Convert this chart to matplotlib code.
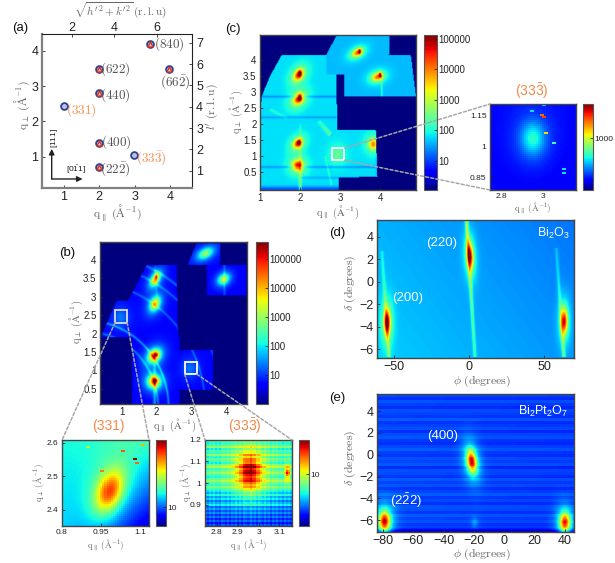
import numpy as np
import matplotlib
matplotlib.use('Agg')
import matplotlib.pyplot as plt
from matplotlib.colors import LogNorm
from matplotlib.patches import ConnectionPatch, Rectangle
from matplotlib.path import Path
from matplotlib.ticker import FixedLocator, FixedFormatter, NullLocator

plt.rcParams.update({'font.family': ['Liberation Sans', 'DejaVu Sans'], 'font.size': 8,
                     'mathtext.fontset': 'cm', 'mathtext.rm': 'Liberation Sans',
                     'mathtext.it': 'Liberation Sans:italic', 'mathtext.bf': 'Liberation Sans:bold',
                     'mathtext.default': 'rm'})

W, H = 615, 563
ORANGE = '#f58a4b'; GREY = '#666666'; TICK = '#222222'

# ---------- panel (a): reflections ----------
a_triangle_q = [2, 2, 2, 2, 3.42, 3.98]
a_triangle_p = [0.70, 1.40, 2.80, 3.50, 4.20, 3.50]
a_ring_only_q = [1.0, 2.97]
a_ring_only_p = [2.45, 1.05]
a_labels = [r'(22\bar{2})', '(400)', '(440)', '(622)', '(840)', r'(66\bar{2})']
a_label_q = [2.46, 2.48, 2.46, 2.46, 3.99, 4.15]
a_label_p = [0.65, 1.42, 2.75, 3.48, 4.20, 3.12]
a_or_labels = ['(331)', r'(33\bar{3})']
a_or_q = [1.48, 3.47]
a_or_p = [2.33, 0.96]

# ---------- maps: intensities are expressed as position on the colour scale (0..1) ----------
# peak rows: q_x, q_y, height, width_x(px), width_y(px), tilt(deg)
c_peaks = [(1.96, 3.51, .54, 2.8, 4.2, 35), (1.96, 2.77, .56, 3, 4.2, 40), (1.94, 1.39, .54, 2.6, 3.5, 40),
           (1.94, 0.71, .58, 3.4, 3.4, 20), (3.42, 4.20, .50, 2.3, 3.8, 60), (3.92, 3.45, .50, 2.6, 3.8, 70),
           (3.82, 1.37, .44, 3, 3.6, 0), (2.92, 1.04, .14, 4, 5, 0),
           (3.48, 4.24, .55, .7, 1.3, 0), (3.99, 3.52, .55, .7, 1.3, 0), (1.99, 3.56, .5, .8, 1.5, 0),
           (1.99, 2.81, .5, .8, 1.5, 0), (1.97, 1.42, .5, .8, 1.2, 0)]
# streak rows: x0, y0, x1, y1, amp0, amp1, width(px)
c_streaks = [(2.0, -.05, 2.0, 2.0, .20, .02, .9), (4.02, 3.5, 4.03, 2.85, .10, .07, .7),
             (2.46, 2.08, 2.75, 1.66, .05, .14, 1.3), (1.25, 2.44, 1.67, 2.18, .05, .03, 1.0),
             (2.62, 1.0, 2.78, 0.1, .05, .05, .6),
             (1.0, 2.84, 2.9, 2.84, -.08, -.08, .8), (1.0, 2.2, 2.9, 2.2, -.06, -.06, .8),
             (1.0, 0.66, 3.9, 0.66, -.07, -.07, .8), (2.0, .33, 3.9, .33, -.05, -.05, .8),
             (1.0, -.03, 2.96, -.03, -.14, -.14, 2.0), (3.9, 1.82, 3.9, .4, -.03, -.03, .8)]
c_tiles = [([(1, -.05), (1, 2.23), (1.04, 2.84), (1.25, 3.48), (1.54, 4.13), (2.65, 4.13), (2.9, 3.53),
             (2.92, 1.82), (3.88, 1.82), (3.92, .365), (2.96, .33), (2.96, -.05)], .345),
           ([(2.65, 4.13), (2.92, 4.78), (4.23, 4.78), (4.21, 4.13), (4.75, 4.13), (4.88, 2.84),
             (3.10, 2.84), (3.10, 3.53), (2.65, 3.53)], .31)]

b_peaks = [(3.41, 4.18, .42, 3.2, 5.5, 60), (3.93, 3.48, .46, 3.2, 4.2, 50), (1.97, 3.48, .58, 2.6, 4.8, 30),
           (1.96, 2.81, .58, 3, 4.8, 25), (1.94, 1.40, .68, 3.6, 4.8, 40), (1.93, 0.70, .68, 4.2, 4.2, 30),
           (0.98, 2.44, .12, 5, 6, 0), (2.96, 1.06, .12, 5, 6, 0),
           (2.00, 3.55, .25, .8, 1.6, 0), (2.00, 1.43, .25, 1.2, 1.2, 0), (1.98, 0.73, .25, 1.2, 1.2, 0)]
b_streaks = [(1.95, .09, 1.95, 1.56, .16, .06, 1.0), (2.02, 2.95, 1.96, 3.84, .05, .05, .8),
             (3.95, 3.05, 3.95, 3.86, .08, .08, .8)]
b_rings = [(2.05, .11, .8), (2.35, .14, .8), (3.4, .09, .8), (3.9, .09, .8), (4.2, .10, .9)]
b_tiles = [([(2.89, 3.86), (3.15, 4.45), (3.84, 4.45), (3.82, 3.86)], .12),
           ([(3.45, 3.86), (4.58, 3.86), (4.58, 3.05), (3.45, 3.05)], .11),
           ([(.40, 1.90), (.86, 2.90), (1.19, 2.90), (1.72, 3.86), (2.58, 3.86), (2.62, 1.90)], .125),
           ([(1.30, 1.90), (2.67, 1.90), (2.67, 1.56), (3.63, 1.56), (3.63, .47), (2.67, .47),
             (2.67, .09), (1.30, .09)], .12)]

d_peaks = [(-54.5, -3.6, .66, 2.2, 8.5, 0), (0.7, 2.3, .66, 2.2, 8.5, -3), (63.5, -3.5, .66, 2.2, 8.5, 0)]
d_streaks = [(-1.6, 5.5, 4.0, -6.7, .26, .12, 1.2), (-58, 2.7, -53.3, -6.7, .06, .18, 1.2),
             (58.2, 3.0, 63.3, -6.7, .06, .18, 1.2)]
d_corners = [.30, .24, .33, .27]  # TL, TR, BL, BR

e_peaks = [(-79, -6.1, .76, 3.6, 6.5, 0), (40, -6.2, .72, 3.5, 6.5, 0), (-21.5, -0.6, .76, 3.1, 7.5, -8),
           (-19.5, -6.2, .10, 2, 3, 0)]
e_streaks = [(-84, -7.0, 46, -7.0, -.14, -.14, 1.6)]
e_corners = [.19, .18, .20, .18]
e_rows = [.01, -.015, .02, 0, -.02, .015, .005, -.01, .025, -.015, 0, .015, -.02, .01, .02, -.01, -.02, .005,
          .025, -.005, -.015, .015, 0, .02, -.025, .01, .005, -.015, .02, -.005, .015, -.02, 0, .025, -.01, .005,
          -.02, .015, .01, -.015, .02, -.005, .01, -.015, 0, .005]

b1_peaks = [(.983, 2.454, .57, 8.5, 14.5, 20)]
b1_corners = [.38, .42, .33, .08]
b1_hot_x = [1.077, 1.104, 1.031, 1.081, .95, .90]
b1_hot_y = [2.549, 2.593, 2.573, 2.537, 2.516, 2.588]
b1_hot_f = [.98, .72, .82, .80, .78, .55]

b2_peaks = [(2.958, 1.054, .52, 7.5, 12, 0), (3.138, 1.046, .42, 1.5, 4, 0)]
b2_rows = [.45, .38, .42, .52, .36, .44, .40, .52, .38, .46, .42, .36, .48, .55, .40, .45, .50, .42,
           .38, .46, .52, .44, .40, .48, .42, .36, .30, .38, .28, .34, .24, .30, .36, .22, .28, .20,
           .26, .18, .24, .16, .22, .14, .20]
b2_cols = [.015, -.025, .02, -.01, .03, -.02, .005, -.03, .025, .01, -.015, .02, -.025, .015, -.005, .025,
           -.02, .01, -.03, .02, .005, -.015, .03, -.01, .015, -.025, .02, .005, -.02, .025, -.01, .015,
           -.03, .02, -.005, .025, -.015, .01, -.025, .02, -.01, .015, -.02]

c2_peaks = [(2.95, 1.04, .28, 8, 11, 0)]
c2_corners = [.13, .13, .12, .11]
c2_hot_x = [2.986, 2.997, 3.013, 3.048, 3.097, 3.097, 2.937, 2.995]
c2_hot_y = [1.158, 1.146, 1.065, 1.018, .891, .867, 1.176, 1.203]
c2_hot_f = [.80, .85, .68, .42, .35, .35, .35, .35]

# ---------- helpers ----------
def axpx(l, t, r, b):
    return fig.add_axes([l / W, 1 - b / H, (r - l) / W, (b - t) / H])

def fx(px, py, s, **kw):
    kw.setdefault('ha', 'center'); kw.setdefault('va', 'center')
    return fig.text(px / W, 1 - py / H, s, **kw)

def grid(ext, nx, ny):
    x = ext[0] + (np.arange(nx) + .5) / nx * (ext[1] - ext[0])
    y = ext[3] - (np.arange(ny) + .5) / ny * (ext[3] - ext[2])
    return np.meshgrid(x, y)

def add_peaks(f, X, Y, ext, box, peaks):
    sx, sy = box[0] / (ext[1] - ext[0]), box[1] / (ext[3] - ext[2])
    for x0, y0, h, wx, wy, tilt in peaks:
        dx, dy = (X - x0) * sx, (Y - y0) * sy
        t = np.radians(tilt)
        u = dx * np.cos(t) - dy * np.sin(t)
        v = dx * np.sin(t) + dy * np.cos(t)
        q2 = (u / wx) ** 2 + (v / wy) ** 2
        f = f + h * (.7 * np.exp(-q2 / 2) + .3 * np.exp(-q2 / 8))
    return f

def add_streaks(f, X, Y, ext, box, streaks):
    sx, sy = box[0] / (ext[1] - ext[0]), box[1] / (ext[3] - ext[2])
    for x0, y0, x1, y1, a0, a1, w in streaks:
        ax_, ay_ = (x1 - x0) * sx, (y1 - y0) * sy
        px_, py_ = (X - x0) * sx, (Y - y0) * sy
        t = (px_ * ax_ + py_ * ay_) / (ax_ ** 2 + ay_ ** 2)
        d = np.hypot(px_ - t * ax_, py_ - t * ay_)
        amp = a0 + (a1 - a0) * np.clip(t, 0, 1)
        f = f + amp * np.exp(-(d / w) ** 2 / 2) * ((t >= 0) & (t <= 1))
    return f

def tiles_field(X, Y, tiles):
    f = np.zeros_like(X); mask = np.zeros_like(X, bool)
    pts = np.c_[X.ravel(), Y.ravel()]
    for poly, lev in tiles:
        m = Path(poly + [poly[0]]).contains_points(pts).reshape(X.shape)
        f[m] = lev; mask |= m
    return f, mask

def corners_field(X, Y, ext, c):
    u = (X - ext[0]) / (ext[1] - ext[0]); v = (Y - ext[2]) / (ext[3] - ext[2])
    return c[0] * (1 - u) * v + c[1] * u * v + c[2] * (1 - u) * (1 - v) + c[3] * u * (1 - v)

def put_hot(f, ext, xs, ys, vals):
    ny, nx = f.shape
    for x, y, val in zip(xs, ys, vals):
        i = int((ext[3] - y) / (ext[3] - ext[2]) * ny); j = int((x - ext[0]) / (ext[1] - ext[0]) * nx)
        if 0 <= i < ny and 0 <= j < nx:
            f[i, j:j + 2] = val
    return f

def show(ax, f, ext, vmin, vmax):
    I = vmin * (vmax / vmin) ** np.clip(f, 0, 1)
    im = ax.imshow(I, extent=ext, origin='upper', cmap='jet', norm=LogNorm(vmin, vmax),
                   aspect='auto', interpolation='bilinear')
    ax.set_xlim(ext[0], ext[1]); ax.set_ylim(ext[2], ext[3])
    return im

def style(ax, xt, yt, fs=7):
    ax.set_xticks(xt); ax.set_yticks(yt)
    ax.set_xticklabels([('%g' % v).replace('-', '\u2212') for v in xt])
    ax.set_yticklabels([('%g' % v).replace('-', '\u2212') for v in yt])
    ax.tick_params(direction='in', length=2, width=.6, labelsize=fs, pad=2.5, colors=TICK)
    for s in ax.spines.values():
        s.set_linewidth(1.0); s.set_color('#444444')

def cbar(im, box, ticks, labels, fs=7):
    cax = axpx(*box)
    cb = fig.colorbar(im, cax=cax)
    cax.yaxis.set_major_locator(FixedLocator(ticks))
    cax.yaxis.set_major_formatter(FixedFormatter(labels))
    cax.yaxis.set_minor_locator(NullLocator())
    cax.tick_params(direction='in', length=2, width=.6, labelsize=fs, pad=1, colors=TICK)
    cb.outline.set_linewidth(.8); cb.outline.set_edgecolor('#555555')
    return cb

def link(axA, xyA, axB, xyB):
    axB.add_artist(ConnectionPatch(xyA=xyA, coordsA='data', axesA=axA, xyB=xyB, coordsB='axes fraction',
                                   axesB=axB, color='#a8a8a8', lw=1.1, ls=(0, (2, 1.4)), zorder=10,
                                   clip_on=False))

fig = plt.figure(figsize=(W / 100, H / 100), dpi=100)
QPAR = r'$\mathrm{q}_{\parallel}\ (\mathrm{\AA}^{-1})$'
QPER = r'$\mathrm{q}_{\perp}\ (\mathrm{\AA}^{-1})$'
SANS = dict(math_fontfamily='custom')

# ---------- (a) ----------
ax = axpx(42, 34, 192, 188)
ax.set_xlim(.38, 4.62); ax.set_ylim(.11, 4.48)
ax.scatter(a_ring_only_q, a_ring_only_p, s=24, facecolor='#b9c4d6', edgecolor='#2d3f96', lw=1.3, zorder=3)
ax.scatter(a_triangle_q, a_triangle_p, s=24, facecolor='#b9c4d6', edgecolor='#2d3f96', lw=1.3, zorder=3)
ax.scatter(a_triangle_q, a_triangle_p, s=13, marker='^', facecolor='#f4d9c8', edgecolor='#d8321f', lw=1.0, zorder=4)
for x, y, s in zip(a_label_q, a_label_p, a_labels):
    ax.text(x, y, '$%s$' % s, ha='center', va='center', fontsize=9.5, color='#555555', clip_on=False)
for x, y, s in zip(a_or_q, a_or_p, a_or_labels):
    ax.text(x, y, '$%s$' % s, ha='center', va='center', fontsize=9.5, color=ORANGE)
style(ax, [1, 2, 3, 4], [1, 2, 3, 4], fs=9)
ax.spines['left'].set_color('#808080'); ax.spines['bottom'].set_color('#808080')
ax.spines['left'].set_linewidth(1.6); ax.spines['bottom'].set_linewidth(1.6)
ax.spines['top'].set_color('#222222'); ax.spines['right'].set_color('#222222')
ax.spines['top'].set_linewidth(.8); ax.spines['right'].set_linewidth(.8)
ap = dict(arrowstyle='-|>', color='#222222', lw=1.0, shrinkA=0, shrinkB=0, mutation_scale=8)
ax.annotate('', xy=(1.527, .366), xytext=(.654, .366), arrowprops=ap)
ax.annotate('', xy=(.654, 1.22), xytext=(.654, .366), arrowprops=ap)
ax.text(1.35, .62, r'$[0\bar{1}1]$', fontsize=6, ha='center', va='center', color='#222222', **SANS)
ax.text(.72, 1.52, r'$[111]$', fontsize=6, rotation=90, ha='center', va='center', color='#222222', **SANS)
top = ax.twiny(); top.set_xlim(.6, 7.66); top.set_frame_on(False)
top.set_xticks([2, 4, 6]); top.tick_params(direction='in', length=2, width=.6, labelsize=9, pad=0, colors=TICK)
right = ax.twinx(); right.set_ylim(.19, 7.41); right.set_frame_on(False)
right.set_yticks(range(1, 8)); right.tick_params(direction='in', length=2, width=.6, labelsize=9, pad=3, colors=TICK)
fx(117, 213, QPAR, color=GREY, fontsize=8.5); fx(22, 105, QPER, rotation=90, color=GREY, fontsize=8.5)
fx(120, 10, r"$\sqrt{\mathit{h}'^{2}+\mathit{k}'^{2}}\,(\mathrm{r.l.u})$", color=GREY, fontsize=8)
fx(212, 107, r"$\mathit{l}'\ (\mathrm{r.l.u})$", rotation=90, color=GREY, fontsize=8.5)

# ---------- (c) ----------
ext = [1, 4.88, -.05, 4.78]; box = (155, 155)
axc = axpx(260, 35, 415.5, 190)
X, Y = grid(ext, 200, 200)
f, mask = tiles_field(X, Y, c_tiles)
f = add_peaks(f, X, Y, ext, box, c_peaks); f = add_streaks(f, X, Y, ext, box, c_streaks)
f[~mask] = 0
imc = show(axc, f, ext, 1.1, 1.35e5)
style(axc, [1, 2, 3, 4], [.5, 1, 1.5, 2, 2.5, 3, 3.5, 4])
axc.add_patch(Rectangle((2.79, .88), .31, .37, fill=False, ec='white', lw=1.3, zorder=5))
cbar(imc, (424, 35, 437, 190), [10, 100, 1000, 10000, 100000], ['10', '100', '1000', '10000', '100000'])
fx(338, 212, QPAR, color=GREY, fontsize=7.5); fx(236, 112, QPER, rotation=90, color=GREY, fontsize=7.5)

ext = [2.743, 3.158, .789, 1.208]; box = (86, 86)
axc2 = axpx(490, 104, 576, 190)
X, Y = grid(ext, 43, 43)
f = add_peaks(corners_field(X, Y, ext, c2_corners), X, Y, ext, box, c2_peaks)
f = put_hot(f, ext, c2_hot_x, c2_hot_y, c2_hot_f)
im = show(axc2, f, ext, 126, 3981); im.set_interpolation('nearest')
style(axc2, [2.8, 3], [.85, 1, 1.15], fs=6)
cbar(im, (583, 104, 593, 190), [1000], ['1000'], fs=6)
fx(533, 208, QPAR, color=GREY, fontsize=6.5)
fx(532, 91, r'$(33\bar{3})$', color=ORANGE, fontsize=10, **SANS)
link(axc, (3.10, 1.25), axc2, (0, 1)); link(axc, (3.10, .88), axc2, (0, 0))

# ---------- (b) ----------
ext = [.38, 4.6, .09, 4.49]; box = (147, 162)
axb = axpx(100, 242, 247, 404)
X, Y = grid(ext, 220, 240)
f, mask = tiles_field(X, Y, b_tiles)
rho = np.hypot(X, Y); s_ring = np.sqrt(box[0] / (ext[1] - ext[0]) * box[1] / (ext[3] - ext[2]))
for r, a, w in b_rings:
    f = f + a * np.exp(-((rho - r) * s_ring / w) ** 2 / 2)
f = add_peaks(f, X, Y, ext, box, b_peaks); f = add_streaks(f, X, Y, ext, box, b_streaks)
f[~mask] = 0
imb = show(axb, f, ext, 1.02, 3.85e5)
style(axb, [1, 2, 3, 4], [.5, 1, 1.5, 2, 2.5, 3, 3.5, 4])
axb.add_patch(Rectangle((.81, 2.30), .35, .335, fill=False, ec='#dddddd', lw=1.3, zorder=5))
axb.add_patch(Rectangle((2.81, .90), .35, .327, fill=False, ec='white', lw=1.3, zorder=5))
cbar(imb, (256, 242, 268, 404), [10, 100, 1000, 10000, 100000], ['10', '100', '1000', '10000', '100000'])
fx(175, 425, QPAR, color=GREY, fontsize=7.5); fx(76, 322, QPER, rotation=90, color=GREY, fontsize=7.5)

ext = [.8, 1.135, 2.352, 2.608]; box = (87, 86)
axb1 = axpx(62, 440, 149, 526)
X, Y = grid(ext, 43, 43)
f = add_peaks(corners_field(X, Y, ext, b1_corners), X, Y, ext, box, b1_peaks)
f = put_hot(f, ext, b1_hot_x, b1_hot_y, b1_hot_f)
im = show(axb1, f, ext, 7.3, 31); im.set_interpolation('nearest')
style(axb1, [.8, .95, 1.1], [2.4, 2.5, 2.6], fs=6)
cbar(im, (156, 440, 166, 526), [10], ['10'], fs=6)
fx(106, 545, QPAR, color=GREY, fontsize=6.5); fx(39, 483, QPER, color=GREY, fontsize=6.5, rotation=90)
fx(108, 426, '(331)', color=ORANGE, fontsize=10)
link(axb, (.81, 2.30), axb1, (0, 1)); link(axb, (1.16, 2.30), axb1, (1, 1))

ext = [2.744, 3.16, .80, 1.20]; box = (87, 86)
axb2 = axpx(205, 440, 292, 526)
X, Y = grid(ext, 43, 43)
f = np.array(b2_rows)[:, None] + np.array(b2_cols)[None, :]
f = add_peaks(f, X, Y, ext, box, b2_peaks)
im = show(axb2, f, ext, 2.9, 22.9); im.set_interpolation('nearest')
style(axb2, [2.8, 2.9, 3, 3.1], [.9, 1, 1.1, 1.2], fs=6)
cbar(im, (299, 440, 309, 526), [10], ['10'], fs=6)
fx(249, 545, QPAR, color=GREY, fontsize=6.5); fx(185, 483, QPER, color=GREY, fontsize=6.5, rotation=90)
fx(245, 426, r'$(33\bar{3})$', color=ORANGE, fontsize=10, **SANS)
link(axb, (2.81, .90), axb2, (0, 1)); link(axb, (3.16, .90), axb2, (1, 1))

# ---------- (d) ----------
ext = [-61.3, 70, -6.78, 5.5]; box = (197, 138)
axd = axpx(377, 220, 574, 358)
X, Y = grid(ext, 197, 138)
f = corners_field(X, Y, ext, d_corners)
f = add_streaks(f, X, Y, ext, box, d_streaks); f = add_peaks(f, X, Y, ext, box, d_peaks)
show(axd, f, ext, 1, 1e4)
style(axd, [-50, 0, 50], [-6, -4, -2, 0, 2, 4], fs=9)
fx(482, 381, r'$\phi\ (\mathrm{degrees})$', color=GREY, fontsize=8.5)
fx(350, 283, r'$\delta\ (\mathrm{degrees})$', rotation=90, color=GREY, fontsize=8.5)
for px, py, s in [(442, 243, '(220)'), (408, 298, '(200)')]:
    fx(px, py, s, color='white', fontsize=9.5)
fx(553, 233, r'$\mathrm{Bi_2O_3}$', color='white', fontsize=9, **SANS)

# ---------- (e) ----------
ext = [-84, 46, -7.07, 5.56]; box = (197, 138)
axe = axpx(377, 394, 574, 532)
X, Y = grid(ext, 197, 138)
f = corners_field(X, Y, ext, e_corners)
f = f + np.repeat(np.array(e_rows), 3)[:, None]
f = add_streaks(f, X, Y, ext, box, e_streaks); f = add_peaks(f, X, Y, ext, box, e_peaks)
show(axe, f, ext, 1, 1e4)
style(axe, [-80, -60, -40, -20, 0, 20, 40], [-6, -4, -2, 0, 2, 4], fs=9)
fx(482, 554, r'$\phi\ (\mathrm{degrees})$', color=GREY, fontsize=8.5)
fx(350, 458, r'$\delta\ (\mathrm{degrees})$', rotation=90, color=GREY, fontsize=8.5)
fx(443, 436, '(400)', color='white', fontsize=9.5)
fx(406, 501, r'$(2\bar{2}2)$', color='white', fontsize=9.5, **SANS)
fx(543, 411, r'$\mathrm{Bi_2Pt_2O_7}$', color='white', fontsize=9, **SANS)

for px, py, s in [(20, 28, '(a)'), (233, 29, '(c)'), (67, 253, '(b)'), (337, 233, '(d)'), (337, 398, '(e)')]:
    fx(px, py, s, fontsize=9.5, color='#111111')

fig.savefig('out.png', dpi=100)
